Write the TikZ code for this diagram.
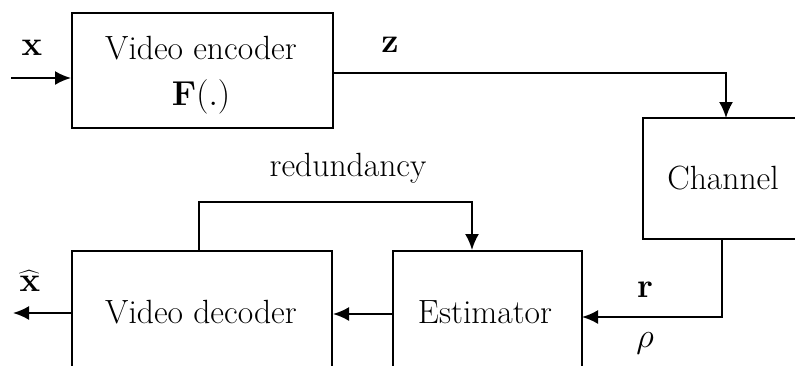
\documentclass[tikz,border=0pt]{standalone}
\usetikzlibrary{arrows.meta}
\begin{document}
\begin{tikzpicture}[x=0.5pt,y=-0.5pt, line width=1pt,
  font=\fontsize{16.8}{20}\selectfont,
  blk/.style={draw, rectangle, inner sep=0pt, minimum height=57.5pt},
  lbl/.style={inner sep=0pt},
  arr/.style={-{Latex[length=8pt,width=7pt]}}]
\useasboundingbox (0,0) rectangle (795,365);
\clip (0,0) rectangle (795,365);
% blocks
\node[blk, minimum width=130.5pt] (enc) at (202.5,70.5) {};
\node[rectangle, inner sep=0pt, minimum width=92pt, minimum height=59.5pt] (chan) at (736,178.5) {};
\draw (chan.north east) -- (chan.north west) -- (chan.south west) -- (chan.south east);
\node[blk, minimum width=94.5pt, minimum height=60pt] (est) at (487.5,311) {};
\node[blk, minimum width=130pt, minimum height=60pt] (dec) at (202,311) {};
% texts
\node[lbl] (t1) at (201,48) {Video encoder};
\node[lbl] (t2) at (201,97) {$\mathbf{F}(.)$};
\node[lbl] (t3) at (723,178) {Channel};
\node[lbl] (t4) at (485,312) {Estimator};
\node[lbl] (t5) at (201,312) {Video decoder};
\node[lbl] (lx) at (32,48) {$\mathbf{x}$};
\node[lbl] (lz) at (390,45) {$\mathbf{z}$};
\node[lbl] (lr) at (645,290) {$\mathbf{r}$};
\node[lbl] (lrho) at (645,343) {$\rho$};
\node[lbl] (lxh) at (30,281) {$\widehat{\mathbf{x}}$};
\node[lbl] (lred) at (348,168) {redundancy};
% coordinates
\coordinate (in) at (11,78);
\coordinate (zc) at (0,73);
\coordinate (zd) at (726,73);
\coordinate (cs) at (722,240);
\coordinate (rin) at (582,317);
\coordinate (eo) at (393,314);
\coordinate (out) at (13,313);
\coordinate (r1) at (199,202);
\coordinate (r2) at (472,202);
% connectors
\draw[arr] (in) -- (in -| enc.west);
\draw[arr] (enc.east |- zc) -- (zd) -- (zd |- chan.north);
\draw[arr] (cs |- chan.south) |- (rin);
\draw[arr] (eo) -- (eo -| dec.east);
\draw[arr] (out -| dec.west) -- (out);
\draw[arr] (r1 |- dec.north) -- (r1) -- (r2) -- (r2 |- est.north);
\end{tikzpicture}
\end{document}
